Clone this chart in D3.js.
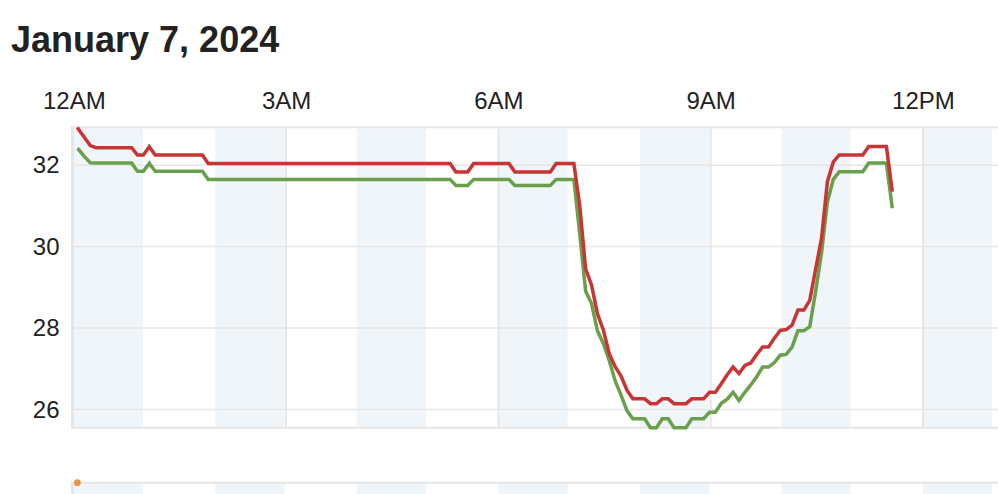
<!DOCTYPE html>
<html>
<head>
<meta charset="utf-8">
<script src="https://cdn.jsdelivr.net/npm/d3@7"></script>
<style>
  html, body { margin: 0; padding: 0; background: #fff; }
  svg { display: block; font-family: "Liberation Sans", Arial, Helvetica, sans-serif; }
</style>
</head>
<body>
<svg id="chart" width="998" height="494"></svg>
<script>
// ---------- data ----------
const title = "January 7, 2024";
const tickMinutes = [0, 180, 360, 540, 720];
const tickLabels = ["12AM", "3AM", "6AM", "9AM", "12PM"];
const yTicks = [26, 28, 30, 32];
const shadedHours = [0, 2, 4, 6, 8, 10, 12];

// sample times (minutes after midnight), 5-minute cadence
const sampleMinutes = d3.range(140).map(i => i === 0 ? 3 : 5 * i - 1);

const redSeries = [
  32.93, 32.88, 32.68, 32.48, 32.43, 32.43, 32.43, 32.43, 32.43, 32.43,
  32.43, 32.25, 32.25, 32.45, 32.25, 32.25, 32.25, 32.25, 32.25, 32.25,
  32.25, 32.25, 32.25, 32.04, 32.04, 32.04, 32.04, 32.04, 32.04, 32.04,
  32.04, 32.04, 32.04, 32.04, 32.04, 32.04, 32.04, 32.04, 32.04, 32.04,
  32.04, 32.04, 32.04, 32.04, 32.04, 32.04, 32.04, 32.04, 32.04, 32.04,
  32.04, 32.04, 32.04, 32.04, 32.04, 32.04, 32.04, 32.04, 32.04, 32.04,
  32.04, 32.04, 32.04, 32.04, 32.04, 31.83, 31.83, 31.83, 32.04, 32.04,
  32.04, 32.04, 32.04, 32.04, 32.04, 31.83, 31.83, 31.83, 31.83, 31.83,
  31.83, 31.83, 32.04, 32.04, 32.04, 32.04, 31.00, 29.45, 29.05, 28.35,
  27.95, 27.37, 27.05, 26.82, 26.47, 26.26, 26.26, 26.26, 26.14, 26.14,
  26.26, 26.26, 26.14, 26.14, 26.14, 26.26, 26.26, 26.26, 26.42, 26.42,
  26.63, 26.85, 27.04, 26.88, 27.08, 27.14, 27.35, 27.53, 27.53, 27.75,
  27.94, 27.96, 28.07, 28.44, 28.44, 28.68, 29.45, 30.20, 31.60, 32.08,
  32.25, 32.25, 32.25, 32.25, 32.25, 32.46, 32.46, 32.46, 32.46, 31.35
];

const greenSeries = [
  32.41, 32.39, 32.21, 32.06, 32.05, 32.05, 32.05, 32.05, 32.05, 32.05,
  32.05, 31.85, 31.85, 32.05, 31.85, 31.85, 31.85, 31.85, 31.85, 31.85,
  31.85, 31.85, 31.85, 31.65, 31.65, 31.65, 31.65, 31.65, 31.65, 31.65,
  31.65, 31.65, 31.65, 31.65, 31.65, 31.65, 31.65, 31.65, 31.65, 31.65,
  31.65, 31.65, 31.65, 31.65, 31.65, 31.65, 31.65, 31.65, 31.65, 31.65,
  31.65, 31.65, 31.65, 31.65, 31.65, 31.65, 31.65, 31.65, 31.65, 31.65,
  31.65, 31.65, 31.65, 31.65, 31.65, 31.50, 31.50, 31.50, 31.65, 31.65,
  31.65, 31.65, 31.65, 31.65, 31.65, 31.50, 31.50, 31.50, 31.50, 31.50,
  31.50, 31.50, 31.65, 31.65, 31.65, 31.65, 30.30, 28.90, 28.60, 27.93,
  27.62, 27.20, 26.70, 26.35, 25.97, 25.77, 25.77, 25.77, 25.55, 25.55,
  25.77, 25.77, 25.55, 25.55, 25.55, 25.77, 25.77, 25.77, 25.93, 25.93,
  26.15, 26.25, 26.42, 26.22, 26.42, 26.60, 26.80, 27.04, 27.04, 27.15,
  27.33, 27.35, 27.53, 27.93, 27.93, 28.03, 28.90, 29.85, 31.10, 31.65,
  31.84, 31.84, 31.84, 31.84, 31.84, 32.05, 32.05, 32.05, 32.05, 30.94
];

// second (lower) panel: single point visible
const lowerMinutes = [3];
const lowerValues = [1];

// ---------- layout ----------
const svg = d3.select("#chart");
const W = 998;
const plotLeft = 73.8, plotTop = 127.3, plotBottom = 427.7;
const pxPerMinute = 1.1794;
const lowerTop = 482.7, lowerBottom = 520;

const x = d3.scaleLinear()
  .domain([0, 900])
  .range([plotLeft, plotLeft + 900 * pxPerMinute]);

const allVals = redSeries.concat(greenSeries);
const y = d3.scaleLinear()
  .domain(d3.extent(allVals))
  .range([plotBottom, plotTop]);

const yLower = d3.scaleLinear().domain([0, 1]).range([lowerBottom, lowerTop]);

const gridColor = "#e6e6e6";
const bandColor = "#f0f5fa";

// title
svg.append("text")
  .attr("x", 11).attr("y", 52)
  .attr("font-size", 36).attr("font-weight", "bold")
  .attr("fill", "#222")
  .text(title);

// shaded bands (upper panel)
svg.append("g").selectAll("rect").data(shadedHours).join("rect")
  .attr("x", h => x(h * 60))
  .attr("width", h => x((h + 1) * 60) - x(h * 60) - 1.5)
  .attr("y", plotTop).attr("height", plotBottom - plotTop)
  .attr("fill", bandColor);

// shaded bands (lower panel)
svg.append("g").selectAll("rect").data(shadedHours).join("rect")
  .attr("x", h => x(h * 60))
  .attr("width", h => x((h + 1) * 60) - x(h * 60) - 1.5)
  .attr("y", lowerTop).attr("height", lowerBottom - lowerTop)
  .attr("fill", bandColor);

// horizontal grid lines
svg.append("g").selectAll("line").data(yTicks).join("line")
  .attr("x1", plotLeft).attr("x2", W)
  .attr("y1", d => y(d)).attr("y2", d => y(d))
  .attr("stroke", gridColor).attr("stroke-width", 1.5);

// vertical grid lines
svg.append("g").selectAll("line").data(tickMinutes.slice(1)).join("line")
  .attr("x1", d => x(d)).attr("x2", d => x(d))
  .attr("y1", plotTop).attr("y2", plotBottom)
  .attr("stroke", gridColor).attr("stroke-width", 2);

// borders upper panel
svg.append("line").attr("x1", 71).attr("x2", W).attr("y1", plotTop).attr("y2", plotTop)
  .attr("stroke", gridColor).attr("stroke-width", 2);
svg.append("line").attr("x1", 71).attr("x2", W).attr("y1", plotBottom).attr("y2", plotBottom)
  .attr("stroke", gridColor).attr("stroke-width", 2);
svg.append("line").attr("x1", 72.5).attr("x2", 72.5).attr("y1", plotTop - 1).attr("y2", plotBottom + 1)
  .attr("stroke", gridColor).attr("stroke-width", 3);

// borders lower panel
svg.append("line").attr("x1", 71).attr("x2", W).attr("y1", lowerTop).attr("y2", lowerTop)
  .attr("stroke", gridColor).attr("stroke-width", 2);
svg.append("line").attr("x1", 72.5).attr("x2", 72.5).attr("y1", lowerTop - 1).attr("y2", 494)
  .attr("stroke", gridColor).attr("stroke-width", 3);

// x axis (top labels)
const xAxis = d3.axisTop(x)
  .tickValues(tickMinutes)
  .tickFormat((d, i) => tickLabels[i])
  .tickSize(0).tickPadding(0);
const gx = svg.append("g").attr("transform", "translate(0,108.5)").call(xAxis);
gx.select(".domain").remove();
gx.selectAll("text").attr("font-size", 24).attr("fill", "#222")
  .attr("font-family", "'Liberation Sans', Arial, sans-serif");

// y axis
const yAxis = d3.axisLeft(y).tickValues(yTicks).tickSize(0).tickPadding(0);
const gy = svg.append("g").attr("transform", "translate(59.5,0)").call(yAxis);
gy.select(".domain").remove();
gy.selectAll("text").attr("font-size", 24).attr("fill", "#222")
  .attr("font-family", "'Liberation Sans', Arial, sans-serif");

// lines
const line = d3.line()
  .x((d, i) => x(sampleMinutes[i]))
  .y(d => y(d));

svg.append("path").datum(greenSeries)
  .attr("d", line).attr("fill", "none")
  .attr("stroke", "#6a9f4c").attr("stroke-width", 3.5)
  .attr("stroke-linejoin", "miter");

svg.append("path").datum(redSeries)
  .attr("d", line).attr("fill", "none")
  .attr("stroke", "#c93434").attr("stroke-width", 3.5)
  .attr("stroke-linejoin", "miter");

// lower panel point
svg.append("g").selectAll("circle").data(lowerValues).join("circle")
  .attr("cx", (d, i) => x(lowerMinutes[i]))
  .attr("cy", d => yLower(d))
  .attr("r", 3.4)
  .attr("fill", "#f0924a");
</script>
</body>
</html>
